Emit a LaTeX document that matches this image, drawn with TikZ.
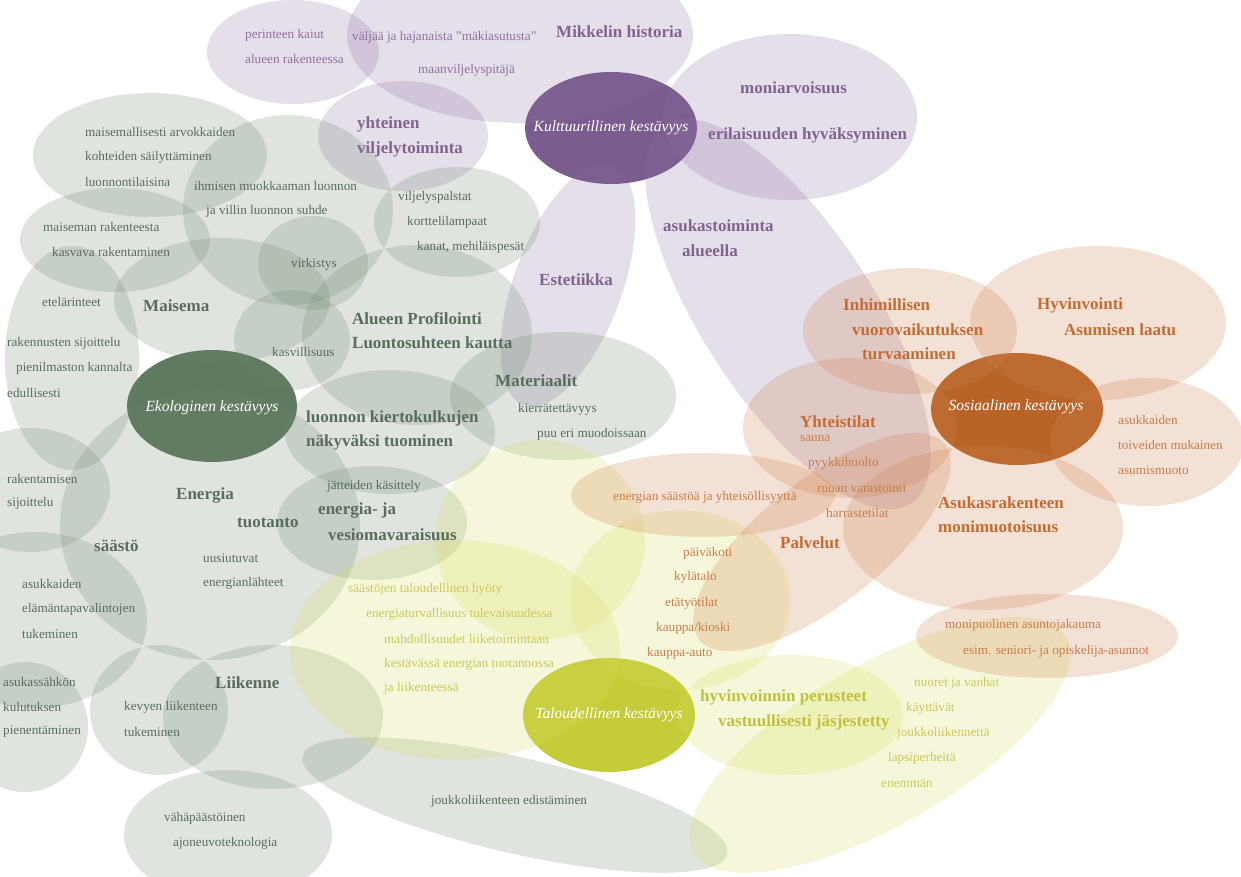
\documentclass[tikz,border=0pt]{standalone}
\usepackage{fontspec}
\setmainfont{Liberation Serif}
\definecolor{gF}{RGB}{110,135,110}
\definecolor{pF}{RGB}{140,110,160}
\definecolor{oF}{RGB}{210,130,80}
\definecolor{yF}{RGB}{215,220,90}
\definecolor{gC}{RGB}{94,122,96}
\definecolor{pC}{RGB}{122,92,142}
\definecolor{oC}{RGB}{184,100,40}
\definecolor{yC}{RGB}{196,204,58}
\definecolor{gT}{RGB}{90,108,92}
\definecolor{pT}{RGB}{128,100,145}
\definecolor{pTl}{RGB}{140,115,158}
\definecolor{oT}{RGB}{196,108,50}
\definecolor{oTl}{RGB}{200,125,75}
\definecolor{yT}{RGB}{200,202,90}
\definecolor{yTb}{RGB}{188,196,60}
\newcommand\blob[6]{\fill[#1, rotate around={#6:(#2,#3)}] (#2,#3) ellipse [x radius=#4, y radius=#5];}
\tikzset{
  gl/.style={gF, fill opacity=0.22},
  pl/.style={pF, fill opacity=0.22},
  ol/.style={oF, fill opacity=0.24},
  yl/.style={yF, fill opacity=0.22},
  tx/.style={anchor=west, inner sep=0pt, font=\fontsize{13.2}{15}\selectfont},
  bx/.style={anchor=west, inner sep=0pt, font=\fontsize{17}{20}\selectfont\bfseries},
  cx/.style={inner sep=0pt, text=white, font=\fontsize{15.5}{18}\selectfont\itshape},
}
\begin{document}
\begin{tikzpicture}[x=1pt,y=-1pt]
\useasboundingbox (0,0) rectangle (1241,877);
\clip (0,0) rectangle (1241,877);
\fill[white] (0,0) rectangle (1241,877);
% dark centres
\blob{pC}{611}{128}{86}{56}{0}
\blob{gC}{212}{406}{85}{56}{0}
\blob{oC}{1017}{409}{86}{56}{0}
\blob{yC}{609}{715}{86}{57}{0}
% purple
\blob{pl}{293}{52}{86}{52}{0}
\blob{pl}{520}{35}{173}{88}{0}
\blob{pl}{403}{136}{85}{55}{0}
\blob{pl}{790}{117}{127}{83}{0}
\blob{pl}{568}{285}{128}{54}{69.7}
\blob{pl}{788}{314}{226}{86}{-57}
% green
\blob{gl}{150}{155}{117}{62}{0}
\blob{gl}{288}{210}{105}{95}{0}
\blob{gl}{457}{222}{83}{55}{0}
\blob{gl}{115}{240}{95}{52}{0}
\blob{gl}{313}{263}{55}{47}{0}
\blob{gl}{222}{300}{108}{62}{0}
\blob{gl}{72}{358}{67}{112}{0}
\blob{gl}{292}{340}{58}{50}{0}
\blob{gl}{417}{335}{115}{90}{0}
\blob{gl}{390}{432}{105}{62}{0}
\blob{gl}{563}{396}{113}{64}{0}
\blob{gl}{210}{525}{150}{135}{0}
\blob{gl}{30}{490}{80}{62}{0}
\blob{gl}{35}{620}{112}{88}{0}
\blob{gl}{372}{523}{95}{57}{0}
\blob{gl}{273}{717}{110}{72}{0}
\blob{gl}{159}{710}{69}{65}{0}
\blob{gl}{25}{727}{63}{65}{0}
\blob{gl}{228}{835}{104}{65}{0}
\blob{gl}{515}{805}{218}{48}{-13}
% yellow
\blob{yl}{455}{650}{165}{110}{0}
\blob{yl}{540}{540}{105}{100}{0}
\blob{yl}{680}{600}{110}{90}{0}
\blob{yl}{790}{715}{113}{60}{0}
\blob{yl}{880}{745}{215}{80}{30}
% orange
\blob{ol}{910}{331}{107}{63}{0}
\blob{ol}{1098}{323}{128}{77}{0}
\blob{ol}{1147}{442}{97}{64}{0}
\blob{ol}{983}{528}{140}{82}{0}
\blob{ol}{850}{428}{107}{70}{0}
\blob{ol}{822}{542}{157}{62}{38.5}
\blob{ol}{703}{495}{132}{42}{0}
\blob{ol}{1047}{636}{131}{42}{0}
% centre labels
\node[cx] (kult) at (611,128) {Kulttuurillinen kestävyys};
\node[cx] (eko) at (212,408) {Ekologinen kestävyys};
\node[cx] (sos) at (1016,407) {Sosiaalinen kestävyys};
\node[cx] (talo) at (609,715) {Taloudellinen kestävyys};
% purple texts
\node[tx,text=pTl] (p1) at (245,35) {perinteen kaiut};
\node[tx,text=pTl] (p2) at (245,59) {alueen rakenteessa};
\node[tx,text=pTl] (p3) at (352,37) {väljää ja hajanaista ”mäkiasutusta”};
\node[bx,text=pT] (p4) at (556,32) {Mikkelin historia};
\node[tx,text=pTl] (p5) at (418,70) {maanviljelyspitäjä};
\node[bx,text=pT] (p6) at (357,124) {yhteinen};
\node[bx,text=pT] (p7) at (357,149) {viljelytoiminta};
\node[bx,text=pT] (p8) at (740,88) {moniarvoisuus};
\node[bx,text=pT] (p9) at (708,135) {erilaisuuden hyväksyminen};
\node[bx,text=pT] (p10) at (663,226) {asukastoiminta};
\node[bx,text=pT] (p11) at (682,251) {alueella};
\node[bx,text=pT] (p12) at (539,280) {Estetiikka};
% green texts
\node[tx,text=gT] (g1) at (85,132) {maisemallisesti arvokkaiden};
\node[tx,text=gT] (g2) at (85,157) {kohteiden säilyttäminen};
\node[tx,text=gT] (g3) at (85,182) {luonnontilaisina};
\node[tx,text=gT] (g4) at (194,186) {ihmisen muokkaaman luonnon};
\node[tx,text=gT] (g5) at (206,211) {ja villin luonnon suhde};
\node[tx,text=gT] (g6) at (43,227) {maiseman rakenteesta};
\node[tx,text=gT] (g7) at (52,252) {kasvava rakentaminen};
\node[tx,text=gT] (g8) at (291,264) {virkistys};
\node[tx,text=gT] (g9) at (398,197) {viljelyspalstat};
\node[tx,text=gT] (g10) at (407,222) {korttelilampaat};
\node[tx,text=gT] (g11) at (417,247) {kanat, mehiläispesät};
\node[tx,text=gT] (g12) at (42,302) {etelärinteet};
\node[bx,text=gT] (g13) at (143,306) {Maisema};
\node[tx,text=gT] (g14) at (7,343) {rakennusten sijoittelu};
\node[tx,text=gT] (g15) at (16,368) {pienilmaston kannalta};
\node[tx,text=gT] (g16) at (7,393) {edullisesti};
\node[tx,text=gT] (g17) at (272,352) {kasvillisuus};
\node[bx,text=gT] (g18) at (352,319) {Alueen Profilointi};
\node[bx,text=gT] (g19) at (352,343) {Luontosuhteen kautta};
\node[bx,text=gT] (g20) at (495,381) {Materiaalit};
\node[tx,text=gT] (g21) at (518,409) {kierrätettävyys};
\node[tx,text=gT] (g22) at (537,434) {puu eri muodoissaan};
\node[bx,text=gT] (g23) at (306,418) {luonnon kiertokulkujen};
\node[bx,text=gT] (g24) at (306,442) {näkyväksi tuominen};
\node[tx,text=gT] (g25) at (7,479) {rakentamisen};
\node[tx,text=gT] (g26) at (7,503) {sijoittelu};
\node[bx,text=gT] (g27) at (176,495) {Energia};
\node[tx,text=gT] (g28) at (327,486) {jätteiden käsittely};
\node[bx,text=gT] (g29) at (318,510) {energia- ja};
\node[bx,text=gT] (g30) at (328,535) {vesiomavaraisuus};
\node[bx,text=gT] (g31) at (237,523) {tuotanto};
\node[bx,text=gT] (g32) at (94,546) {säästö};
\node[tx,text=gT] (g33) at (203,558) {uusiutuvat};
\node[tx,text=gT] (g34) at (203,583) {energianlähteet};
\node[tx,text=gT] (g35) at (22,584) {asukkaiden};
\node[tx,text=gT] (g36) at (22,609) {elämäntapavalintojen};
\node[tx,text=gT] (g37) at (22,634) {tukeminen};
\node[tx,text=gT] (g38) at (3,682) {asukassähkön};
\node[tx,text=gT] (g39) at (3,707) {kulutuksen};
\node[tx,text=gT] (g40) at (3,732) {pienentäminen};
\node[bx,text=gT] (g41) at (215,683) {Liikenne};
\node[tx,text=gT] (g42) at (124,707) {kevyen liikenteen};
\node[tx,text=gT] (g43) at (124,732) {tukeminen};
\node[tx,text=gT] (g44) at (164,818) {vähäpäästöinen};
\node[tx,text=gT] (g45) at (173,843) {ajoneuvoteknologia};
\node[tx,text=gT] (g46) at (431,801) {joukkoliikenteen edistäminen};
% yellow texts
\node[tx,text=yT] (y1) at (348,589) {säästöjen taloudellinen hyöty};
\node[tx,text=yT] (y2) at (366,614) {energiaturvallisuus tulevaisuudessa};
\node[tx,text=yT] (y3) at (384,639) {mahdollisuudet liiketoimintaan};
\node[tx,text=yT] (y4) at (384,664) {kestävässä energian tuotannossa};
\node[tx,text=yT] (y5) at (384,688) {ja liikenteessä};
\node[bx,text=yTb] (y6) at (700,697) {hyvinvoinnin perusteet};
\node[bx,text=yTb] (y7) at (718,722) {vastuullisesti jäsjestetty};
\node[tx,text=yT] (y8) at (914,683) {nuoret ja vanhat};
\node[tx,text=yT] (y9) at (906,708) {käyttävät};
\node[tx,text=yT] (y10) at (897,733) {joukkoliikennettä};
\node[tx,text=yT] (y11) at (888,758) {lapsiperheitä};
\node[tx,text=yT] (y12) at (881,783) {enemmän};
% orange texts
\node[bx,text=oT] (o1) at (843,305) {Inhimillisen};
\node[bx,text=oT] (o2) at (852,330) {vuorovaikutuksen};
\node[bx,text=oT] (o3) at (862,354) {turvaaminen};
\node[bx,text=oT] (o4) at (1037,305) {Hyvinvointi};
\node[bx,text=oT] (o5) at (1064,330) {Asumisen laatu};
\node[tx,text=oTl] (o6) at (1118,420) {asukkaiden};
\node[tx,text=oTl] (o7) at (1118,445) {toiveiden mukainen};
\node[tx,text=oTl] (o8) at (1118,470) {asumismuoto};
\node[bx,text=oT] (o9) at (800,422) {Yhteistilat};
\node[tx,text=oTl] (o10) at (800,438) {sauna};
\node[tx,text=oTl] (o11) at (808,463) {pyykkihuolto};
\node[tx,text=oTl] (o12) at (817,488) {ruoan varastointi};
\node[tx,text=oTl] (o13) at (826,513) {harrastetilat};
\node[tx,text=oTl] (o14) at (613,497) {energian säästöä ja yhteisöllisyyttä};
\node[bx,text=oT] (o15) at (938,503) {Asukasrakenteen};
\node[bx,text=oT] (o16) at (938,527) {monimuotoisuus};
\node[bx,text=oT] (o17) at (780,543) {Palvelut};
\node[tx,text=oTl] (o18) at (683,553) {päiväkoti};
\node[tx,text=oTl] (o19) at (674,577) {kylätalo};
\node[tx,text=oTl] (o20) at (665,603) {etätyötilat};
\node[tx,text=oTl] (o21) at (656,628) {kauppa/kioski};
\node[tx,text=oTl] (o22) at (647,653) {kauppa-auto};
\node[tx,text=oTl] (o23) at (945,625) {monipuolinen asuntojakauma};
\node[tx,text=oTl] (o24) at (963,651) {esim. seniori- ja opiskelija-asunnot};
\end{tikzpicture}
\end{document}
